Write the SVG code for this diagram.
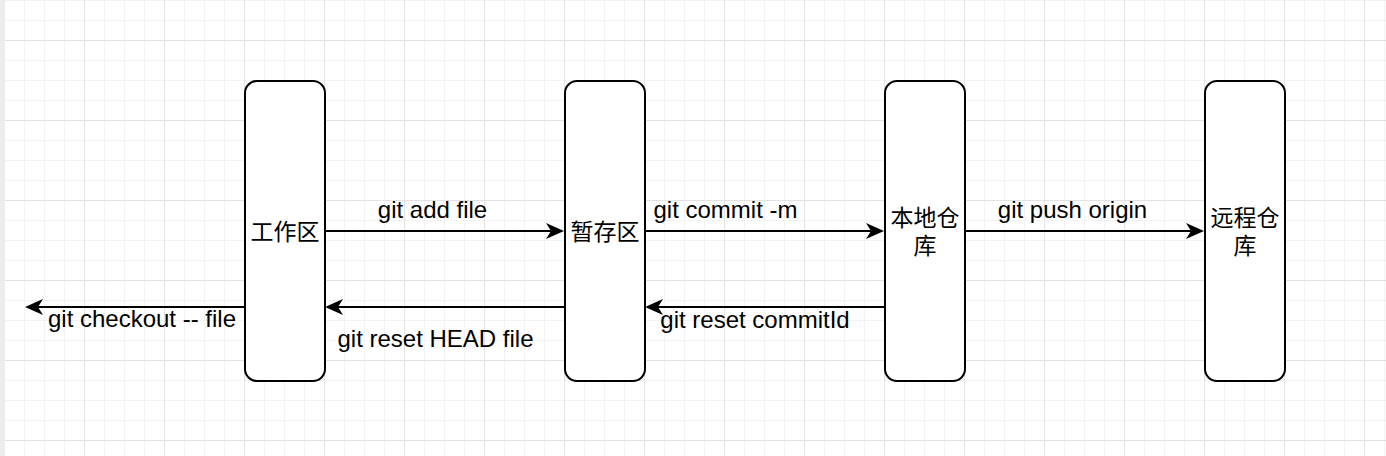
<svg xmlns="http://www.w3.org/2000/svg" width="1386" height="456" viewBox="0 0 1386 456">
<defs>
<pattern id="grid" patternUnits="userSpaceOnUse" x="4" y="40" width="80" height="80">
<rect width="80" height="80" fill="#ffffff"/>
<path d="M20.5,0V80M40.5,0V80M60.5,0V80M0,20.5H80M0,40.5H80M0,60.5H80" stroke="#f3f3f3" stroke-width="1" fill="none"/>
<path d="M0.5,0V80M0,0.5H80" stroke="#e2e2e2" stroke-width="1" fill="none"/>
</pattern>
<marker id="arr" viewBox="0 0 18 16" refX="5" refY="8" markerWidth="18" markerHeight="16" markerUnits="userSpaceOnUse" orient="auto">
<path d="M0,0 L18,8 L0,16 L5,8 Z" fill="#000"/>
</marker>
<style>
.node rect{fill:#ffffff;stroke:#000;stroke-width:2}
.node text{font-family:"Noto Sans CJK SC","Liberation Sans",sans-serif;font-size:23px;fill:#000;text-anchor:middle}
.edge line{stroke:#000;stroke-width:2;marker-end:url(#arr)}
.lbl{font-family:"Liberation Sans",Arial,sans-serif;font-size:24px;fill:#000;text-anchor:middle}
</style>
</defs>
<rect width="1386" height="456" fill="url(#grid)"/>
<rect x="0" y="0" width="5" height="456" fill="#ececec"/>
<g id="connectors" class="edge">
<line x1="325" y1="231" x2="551" y2="231"/>
<line x1="645" y1="231" x2="871" y2="231"/>
<line x1="965" y1="231" x2="1191" y2="231"/>
<line x1="564" y1="307" x2="338" y2="307"/>
<line x1="884" y1="307" x2="658" y2="307"/>
<line x1="244" y1="307" x2="38" y2="307"/>
</g>
<g id="labels">
<text class="lbl" x="432.5" y="218">git add file</text>
<text class="lbl" x="725.5" y="218">git commit -m</text>
<text class="lbl" x="1072.5" y="218">git push origin</text>
<text class="lbl" x="435.5" y="347">git reset HEAD file</text>
<text class="lbl" x="755" y="328">git reset commitId</text>
<text class="lbl" x="142" y="327">git checkout -- file</text>
</g>
<g id="node-work" class="node">
<rect x="245" y="81" width="80" height="300" rx="12"/>
<text x="285" y="240">工作区</text>
</g>
<g id="node-stage" class="node">
<rect x="565" y="81" width="80" height="300" rx="12"/>
<text x="605" y="240">暂存区</text>
</g>
<g id="node-local" class="node">
<rect x="885" y="81" width="80" height="300" rx="12"/>
<text x="925" y="226">本地仓<tspan x="925" dy="28">库</tspan></text>
</g>
<g id="node-remote" class="node">
<rect x="1205" y="81" width="80" height="300" rx="12"/>
<text x="1245" y="226">远程仓<tspan x="1245" dy="28">库</tspan></text>
</g>
</svg>
